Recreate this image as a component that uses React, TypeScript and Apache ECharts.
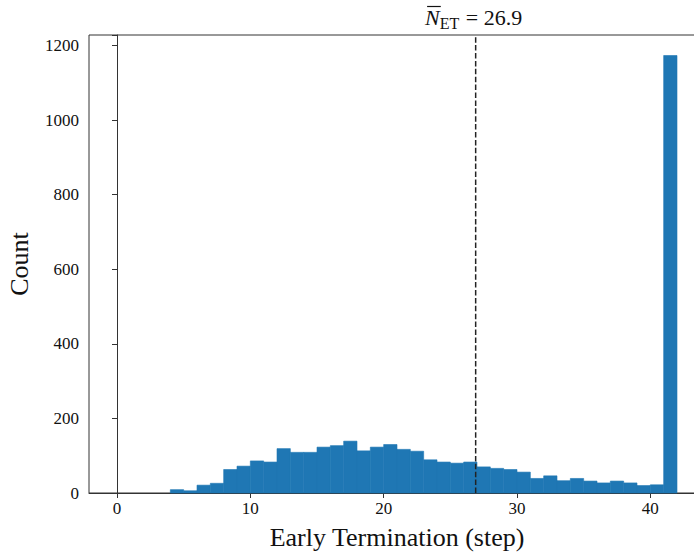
import React, { useEffect, useRef } from "react";
import * as echarts from "echarts";

const binStarts = [4, 5, 6, 7, 8, 9, 10, 11, 12, 13, 14, 15, 16, 17, 18, 19, 20, 21, 22, 23, 24, 25, 26, 27, 28, 29, 30, 31, 32, 33, 34, 35, 36, 37, 38, 39, 40, 41];
const counts = [9, 6, 21, 26, 63, 72, 86, 83, 119, 109, 109, 123, 127, 139, 113, 123, 130, 117, 112, 89, 83, 80, 83, 70, 66, 63, 56, 39, 46, 33, 39, 32, 27, 32, 27, 20, 22, 1173];
const xTicks = [0, 10, 20, 30, 40];
const meanValue = 26.9;
const meanText = "26.9";

export default function App() {
  const ref = useRef<HTMLDivElement>(null);
  useEffect(() => {
    document.body.style.margin = "0";
    const chart = echarts.init(ref.current!, null, { renderer: "svg" });
    const font = "Liberation Serif";
    const YMAX = 1228;
    chart.setOption({
      animation: false,
      textStyle: { fontFamily: font },
      grid: {
        left: 89,
        right: -11,
        top: 35,
        bottom: 61,
        show: true,
        borderColor: "#333",
        borderWidth: 1,
        backgroundColor: "transparent",
        containLabel: false,
        outerBoundsMode: "none",
      },
      xAxis: {
        type: "value",
        min: -2.1,
        max: 44.1,
        name: "Early Termination (step)",
        nameLocation: "middle",
        nameGap: 31,
        nameTextStyle: { fontFamily: font, fontSize: 26, color: "#111" },
        axisLine: { show: true, lineStyle: { color: "#333", width: 1 } },
        axisTick: { show: true, length: 5, customValues: xTicks, lineStyle: { color: "#333" } },
        axisLabel: { customValues: xTicks, fontFamily: font, fontWeight: "normal", fontSize: 17, color: "#111", margin: 7 },
        splitLine: { show: false },
      },
      yAxis: {
        type: "value",
        min: 0,
        max: YMAX,
        interval: 200,
        name: "Count",
        nameLocation: "middle",
        nameGap: 57,
        nameRotate: 90,
        nameTextStyle: { fontFamily: font, fontSize: 26, color: "#111" },
        axisLine: { show: true, lineStyle: { color: "#333", width: 1 } },
        axisTick: { show: true, length: 5, lineStyle: { color: "#333" } },
        axisLabel: {
          fontFamily: font,
          fontWeight: "normal",
          fontSize: 17,
          color: "#111",
          margin: 10,
          formatter: (v: number) => (v > 1200 ? "" : String(v)),
        },
        splitLine: { show: false },
      },
      series: [
        {
          type: "custom",
          data: binStarts.map((b, i) => [b, b + 1, counts[i]]),
          encode: { x: [0, 1], y: 2 },
          renderItem: (params: any, api: any) => {
            const s = api.value(0);
            const e = api.value(1);
            const c = api.value(2);
            const p0 = api.coord([s, 0]);
            const p1 = api.coord([e, c]);
            return {
              type: "rect",
              shape: { x: p0[0], y: p1[1], width: p1[0] - p0[0], height: p0[1] - p1[1] },
              style: { fill: "#1f77b4", stroke: "#1f77b4", lineWidth: 0.6 },
            };
          },
          z: 2,
        },
        {
          type: "line",
          data: [
            [meanValue, 0],
            [meanValue, YMAX],
          ],
          symbol: "none",
          lineStyle: { color: "#222", width: 1.5, type: [5.5, 2.4] },
          z: 3,
        },
      ],
    });

    const px = chart.convertToPixel({ xAxisIndex: 0 }, meanValue) as number;
    const ctx = document.createElement("canvas").getContext("2d")!;
    const mfont = "Liberation Serif";
    const fN = `italic 22px "${mfont}"`;
    const fS = `16px "${mfont}"`;
    const fR = `22px "${mfont}"`;
    ctx.font = fN;
    const wN = ctx.measureText("N").width;
    ctx.font = fS;
    const wS = ctx.measureText("ET").width;
    ctx.font = fR;
    const rest = " = " + meanText;
    const wR = ctx.measureText(rest).width;
    const total = wN + wS + 1 + wR;
    const x0 = px - total / 2 - 2;
    chart.setOption({
      graphic: [
        {
          type: "text",
          x: x0,
          y: 17.5,
          style: { text: "N", font: fN, fill: "#111", verticalAlign: "middle", align: "left" },
        },
        {
          type: "line",
          shape: { x1: x0 + 2, y1: 6.5, x2: x0 + wN + 1, y2: 6.5 },
          style: { stroke: "#111", lineWidth: 1.2 },
        },
        {
          type: "text",
          x: x0 + wN,
          y: 23.5,
          style: { text: "ET", font: fS, fill: "#111", verticalAlign: "middle", align: "left" },
        },
        {
          type: "text",
          x: x0 + wN + wS + 1,
          y: 17.5,
          style: { text: rest, font: fR, fill: "#111", verticalAlign: "middle", align: "left" },
        },
      ],
    });
    return () => chart.dispose();
  }, []);
  return <div ref={ref} style={{ width: 694, height: 554 }} />;
}
